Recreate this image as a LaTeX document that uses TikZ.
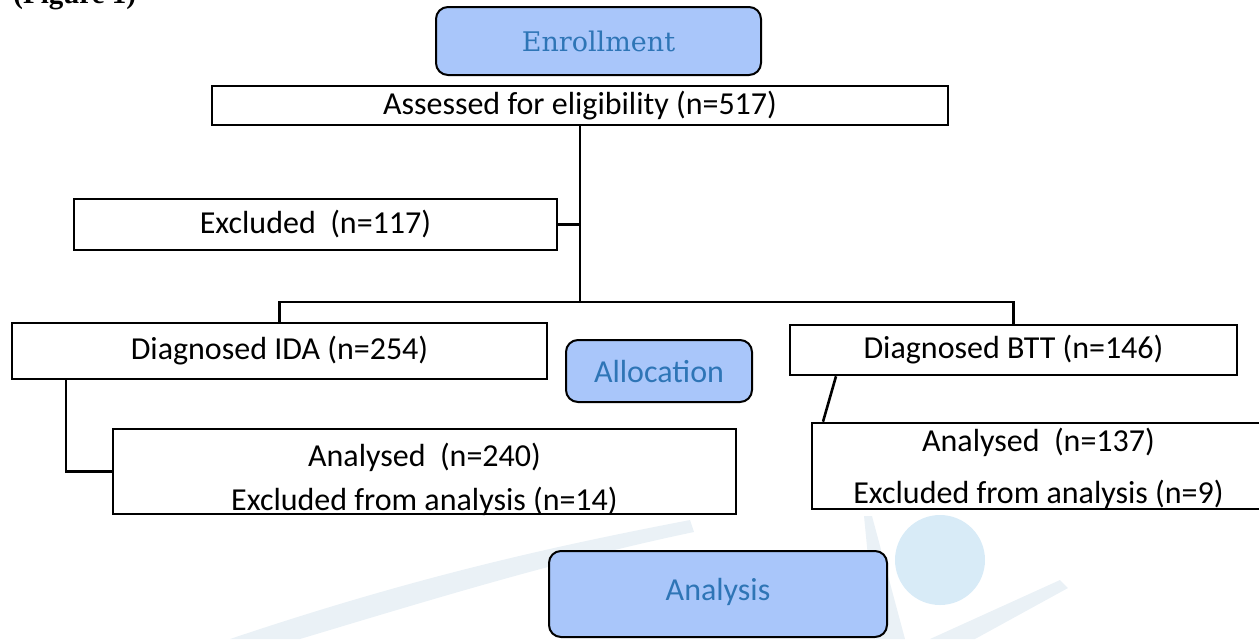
\documentclass[tikz,border=0pt]{standalone}
\usepackage{fontspec}
\setmainfont{Carlito}
\newfontfamily\headfont{DejaVu Serif}
\newfontfamily\capfont{Liberation Serif}
\definecolor{stagefill}{HTML}{A9C6FA}
\definecolor{stagetext}{HTML}{2E75B6}
\definecolor{wmgray}{HTML}{EAF1F6}
\definecolor{wmblue}{HTML}{D8EBF7}
\tikzstyle{box} = [rectangle, draw=black, line width=1.3pt, inner sep=0, font=\fontsize{16}{19}\selectfont]
\tikzstyle{stage} = [rectangle, rounded corners=6pt, draw=black, line width=1pt, fill=stagefill, text=stagetext, inner sep=0, font=\fontsize{16}{19}\selectfont]
\tikzstyle{line} = [line width=1.3pt]
\tikzstyle{boxtext} = [anchor=base, inner sep=0, font=\fontsize{16}{19}\selectfont]

\begin{document}
\begin{tikzpicture}[x=0.5pt,y=-0.5pt]
\useasboundingbox (0,0) rectangle (1259,639);

% watermark in the background
\fill[wmgray] (230,639) .. controls (420,575) and (560,545) .. (690,520) -- (694,532) .. controls (560,560) and (430,600) .. (300,639) -- cycle;
\fill[wmblue] (940,560) circle (45);
\fill[wmgray] (864,516) -- (872,516) -- (905,639) -- (876,639) -- cycle;
\fill[wmgray] (1068,588) -- (1060,580) -- (930,639) -- (975,639) -- cycle;

\node[anchor=base west, inner sep=0, font=\capfont\bfseries\fontsize{14.5}{17}\selectfont] (figcap) at (13,3) {(Figure 1)};

% stages
\node[stage, minimum width=162.5pt, minimum height=34pt, font=\headfont\fontsize{13.5}{16}\selectfont] (enrol) at (598.5,41) {Enrollment};
\node[stage, minimum width=93pt, minimum height=31pt] (alloc) at (659,371) {Allocation};
\node[stage, minimum width=169pt, minimum height=43pt] (analysis) at (718,594) {\raisebox{4.5pt}{Analysis}};

% boxes
\node[box, minimum width=368pt, minimum height=19.5pt] (assess) at (580,105.5) {Assessed for eligibility (n=517)};
\node[box, minimum width=241.5pt, minimum height=25.5pt] (excl) at (315.5,224.5) {Excluded\ \ (n=117)};
\node[box, minimum width=267.5pt, minimum height=28pt] (ida) at (279.5,351) {Diagnosed IDA (n=254)};
\node[box, minimum width=223.5pt, minimum height=25pt] (btt) at (1013.5,350) {Diagnosed BTT (n=146)};
\node[box, minimum width=311.5pt, minimum height=42.5pt] (anaida) at (424.5,471.5) {};
\node[box, minimum width=226.5pt, minimum height=43pt] (anabtt) at (1038.5,466) {};
\node[boxtext] (anaidaa) at ([yshift=24.5pt]anaida.south) {Analysed\ \ (n=240)};
\node[boxtext] (anaidab) at ([yshift=2.5pt]anaida.south) {Excluded from analysis (n=14)};
\node[boxtext] (anabtta) at ([yshift=29.5pt]anabtt.south) {Analysed\ \ (n=137)};
\node[boxtext] (anabttb) at ([yshift=3.5pt]anabtt.south) {Excluded from analysis (n=9)};

% connectors
\coordinate (bar) at (580,302);
\coordinate (idaleg) at (66,0);
\coordinate (bttleg) at (836,0);
\coordinate (bttfoot) at (823,0);
\draw[line] (assess) -- (bar);
\draw[line] (excl.east) -- (excl.east -| bar);
\draw[line] (ida.north) |- (bar) -| (btt.north);
\draw[line] (ida.south -| idaleg) |- (anaida.west);
\draw[line] (btt.south -| bttleg) -- (anabtt.north -| bttfoot);
\end{tikzpicture}
\end{document}
